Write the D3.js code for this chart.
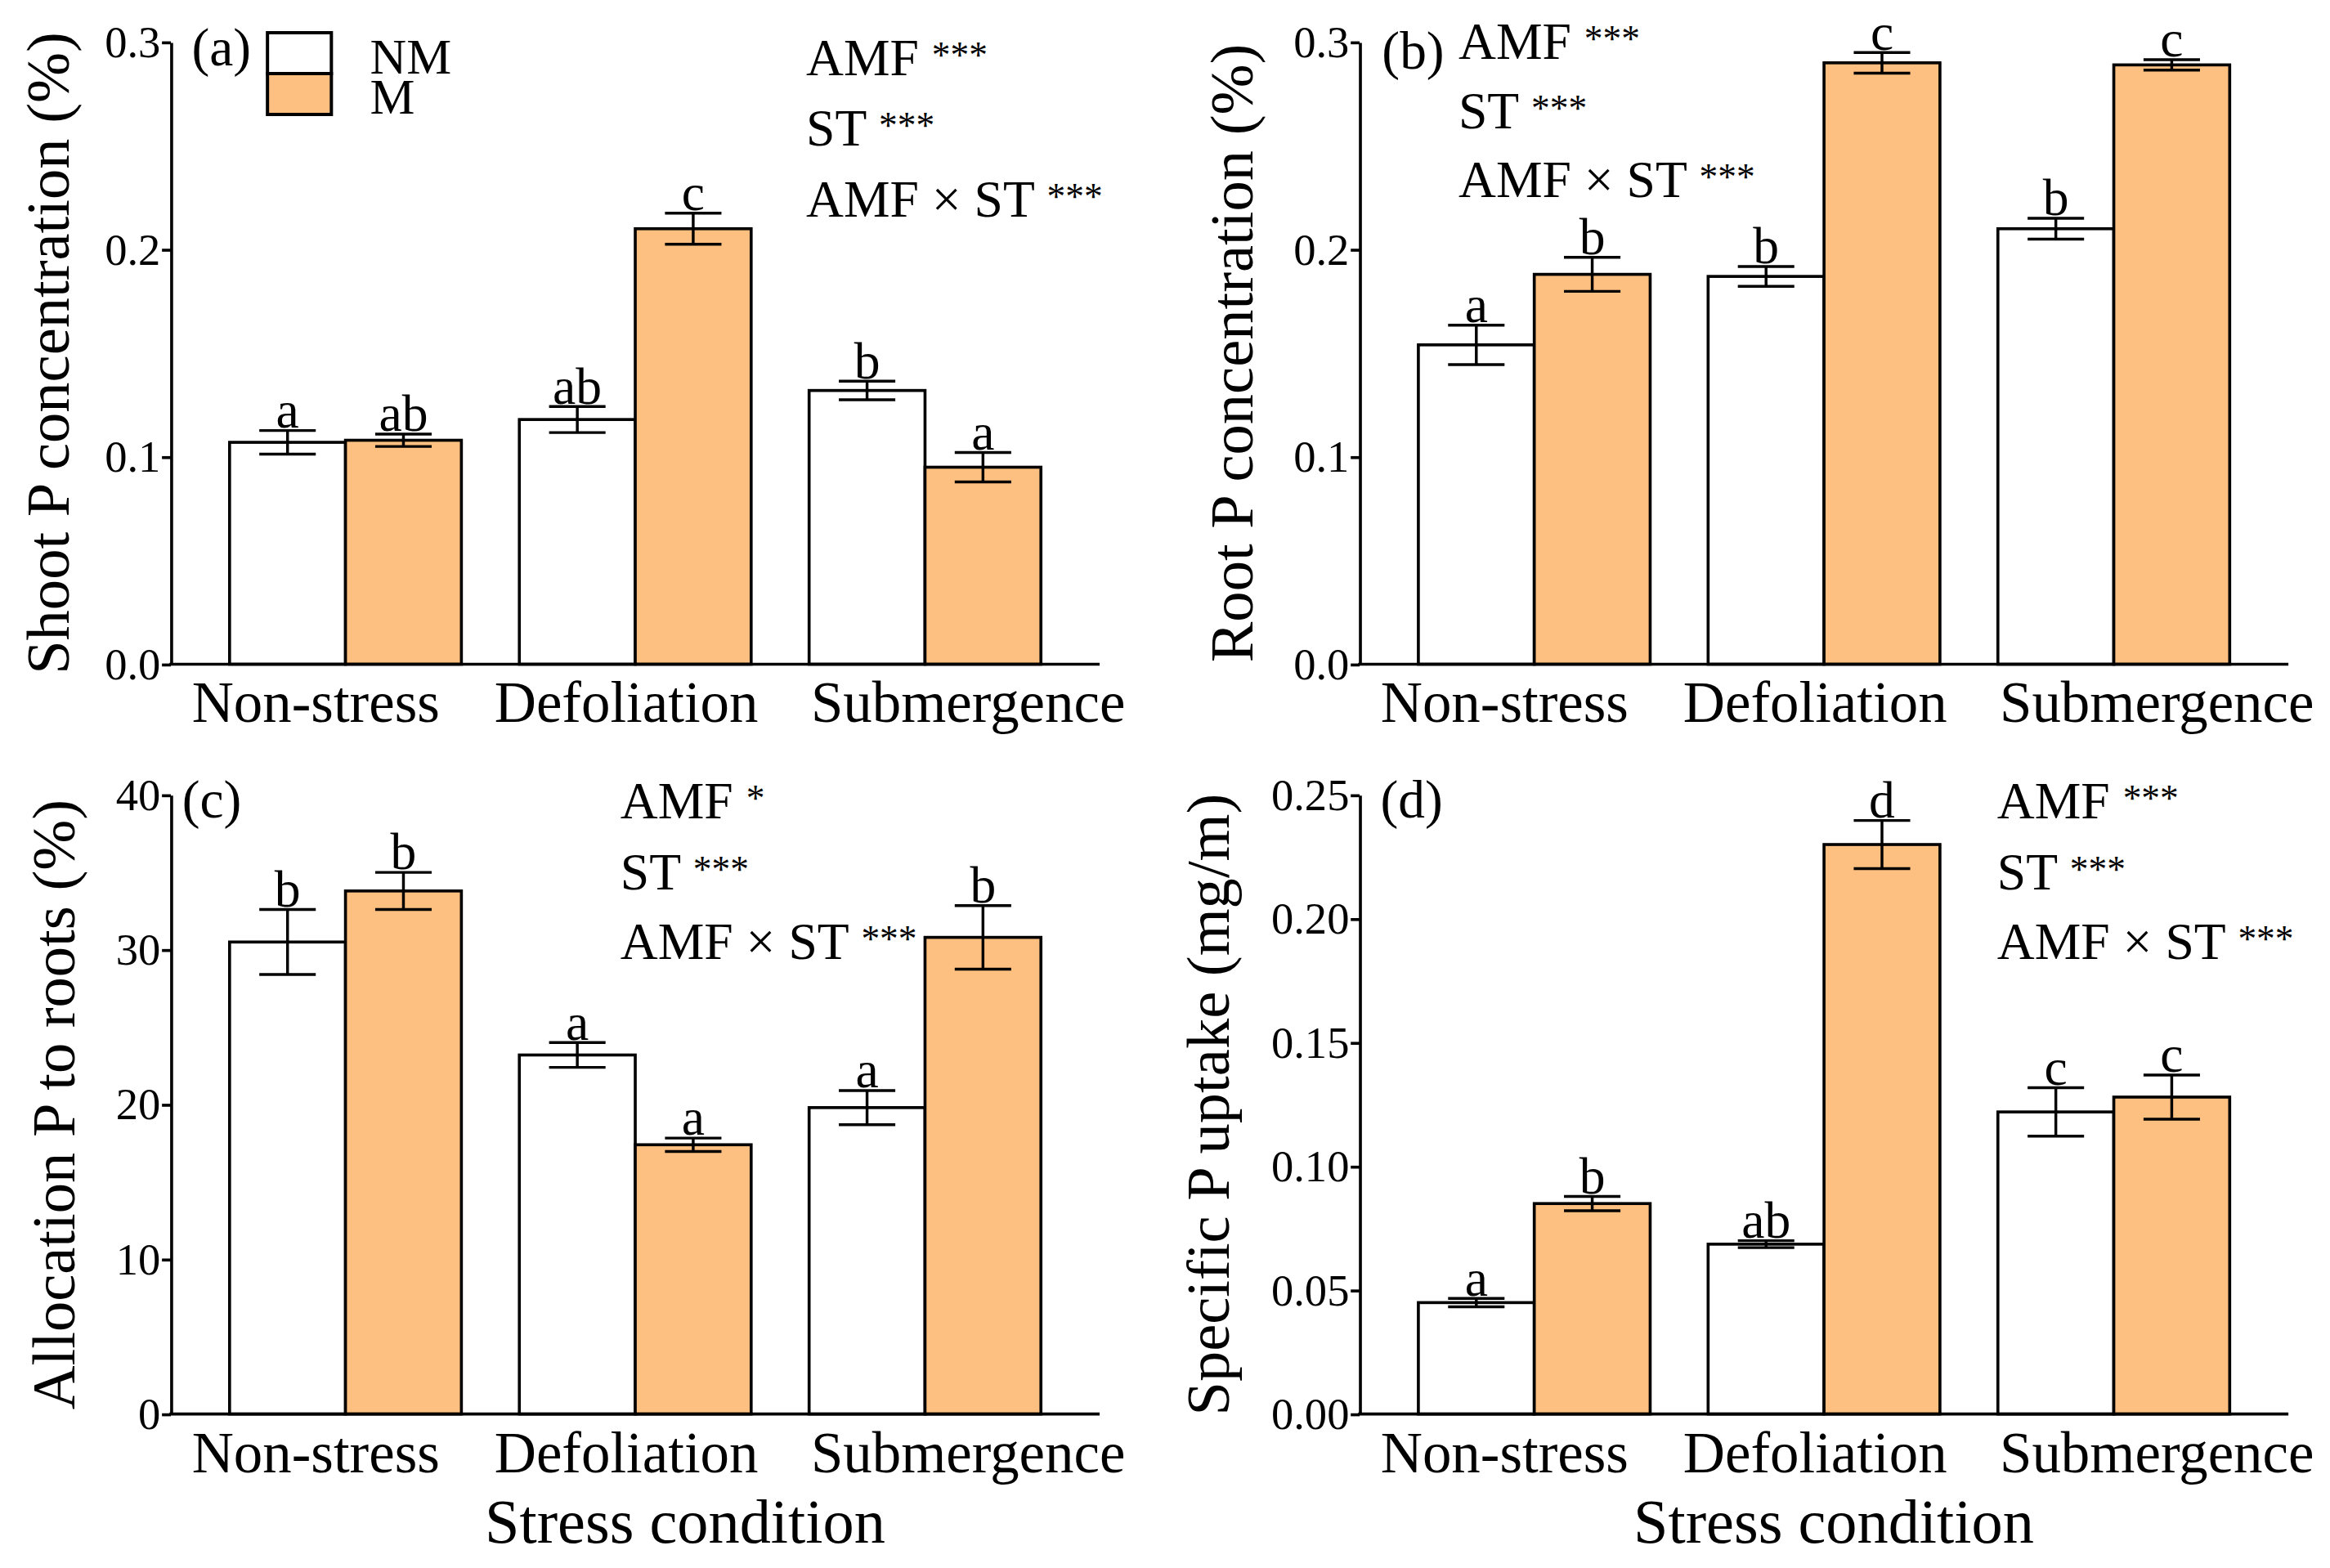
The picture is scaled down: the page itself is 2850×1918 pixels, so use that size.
<!DOCTYPE html>
<html>
<head>
<meta charset="utf-8">
<script src="https://cdn.jsdelivr.net/npm/d3@7"></script>
<style>
    html, body { margin: 0; padding: 0; background: #fff; }
    svg { display: block; }
    text { font-family: "Liberation Serif", "Times New Roman", serif; fill: #000; }
</style>
</head>
<body>
<svg id="fig" width="2850" height="1918" viewBox="0 0 1568 1055.2"></svg>
<script>
    var conditions = ["Non-stress", "Defoliation", "Submergence"];
    var treatments = ["NM", "M"];

    // (a) shoot P concentration (%)
    var shootNM = [0.107, 0.118, 0.132];
    var shootNMse = [0.0057, 0.0063, 0.0045];
    var shootM = [0.108, 0.210, 0.095];
    var shootMse = [0.0030, 0.0075, 0.0071];
    var shootNMlet = ["a", "ab", "b"];
    var shootMlet = ["ab", "c", "a"];
    var shootTicks = [0.0, 0.1, 0.2, 0.3];
    var shootStats = [["AMF", "***"], ["ST", "***"], ["AMF \u00d7 ST", "***"]];

    // (b) root P concentration (%)
    var rootNM = [0.154, 0.187, 0.210];
    var rootNMse = [0.0095, 0.0048, 0.0050];
    var rootM = [0.188, 0.290, 0.289];
    var rootMse = [0.0082, 0.0050, 0.0025];
    var rootNMlet = ["a", "b", "b"];
    var rootMlet = ["b", "c", "c"];
    var rootTicks = [0.0, 0.1, 0.2, 0.3];
    var rootStats = [["AMF", "***"], ["ST", "***"], ["AMF \u00d7 ST", "***"]];

    // (c) allocation of P to roots (%)
    var allocNM = [30.5, 23.2, 19.8];
    var allocNMse = [2.1, 0.8, 1.1];
    var allocM = [33.8, 17.4, 30.8];
    var allocMse = [1.2, 0.43, 2.05];
    var allocNMlet = ["b", "a", "a"];
    var allocMlet = ["b", "a", "b"];
    var allocTicks = [0, 10, 20, 30, 40];
    var allocStats = [["AMF", "*"], ["ST", "***"], ["AMF \u00d7 ST", "***"]];

    // (d) specific P uptake (mg/m)
    var uptakeNM = [0.045, 0.0686, 0.122];
    var uptakeNMse = [0.0017, 0.0014, 0.0098];
    var uptakeM = [0.085, 0.230, 0.128];
    var uptakeMse = [0.0029, 0.0097, 0.0089];
    var uptakeNMlet = ["a", "ab", "c"];
    var uptakeMlet = ["b", "d", "c"];
    var uptakeTicks = [0.00, 0.05, 0.10, 0.15, 0.20, 0.25];
    var uptakeStats = [["AMF", "***"], ["ST", "***"], ["AMF \u00d7 ST", "***"]];

    var fillColor = {NM: "#ffffff", M: "#fec080"};
    var labelShift = [-20, -6, 29];
    var serif = "'Liberation Serif', 'Times New Roman', serif";

    var panels = [
        {tag: "(a)", title: "Shoot P concentration (%)", nm: shootNM, nmSe: shootNMse, m: shootM, mSe: shootMse,
            nmLet: shootNMlet, mLet: shootMlet, ticks: shootTicks, fmt: ".1f", stats: shootStats,
            ax: 115, top: 28.3, bottom: 447, titleX: 46, tagX: 129, tagY: 44,
            statX: 542.5, statY: [50.5, 98, 146], legend: true, xTitle: null},
        {tag: "(b)", title: "Root P concentration (%)", nm: rootNM, nmSe: rootNMse, m: rootM, mSe: rootMse,
            nmLet: rootNMlet, mLet: rootMlet, ticks: rootTicks, fmt: ".1f", stats: rootStats,
            ax: 915, top: 28.3, bottom: 447, titleX: 843, tagX: 930, tagY: 46,
            statX: 981.5, statY: [39.5, 86.5, 132.5], legend: false, xTitle: null},
        {tag: "(c)", title: "Allocation P to roots (%)", nm: allocNM, nmSe: allocNMse, m: allocM, mSe: allocMse,
            nmLet: allocNMlet, mLet: allocMlet, ticks: allocTicks, fmt: "d", stats: allocStats,
            ax: 115, top: 535, bottom: 951.6, titleX: 50, tagX: 122.5, tagY: 550,
            statX: 417.5, statY: [550.5, 598.5, 645.5], legend: false, xTitle: 461},
        {tag: "(d)", title: "Specific P uptake (mg/m)", nm: uptakeNM, nmSe: uptakeNMse, m: uptakeM, mSe: uptakeMse,
            nmLet: uptakeNMlet, mLet: uptakeMlet, ticks: uptakeTicks, fmt: ".2f", stats: uptakeStats,
            ax: 915, top: 535, bottom: 951.6, titleX: 827, tagX: 929, tagY: 550,
            statX: 1344, statY: [550.5, 598.5, 645.5], legend: false, xTitle: 1234}
    ];

    var svg = d3.select("#fig");

    panels.forEach(function (p) {
        drawPanel(svg, p);
    });

    function drawPanel(svg, p) {
        var g = svg.append("g");

        var x = d3.scaleBand()
            .domain(conditions)
            .range([p.ax + 20, p.ax + 605])
            .paddingInner(0.2)
            .paddingOuter(0.1);

        var xSub = d3.scaleBand()
            .domain(treatments)
            .range([0, x.bandwidth()]);

        var y = d3.scaleLinear()
            .domain([p.ticks[0], p.ticks[p.ticks.length - 1]])
            .range([p.bottom, p.top]);

        var rows = [];
        conditions.forEach(function (c, i) {
            rows.push({cond: c, trt: "NM", v: p.nm[i], se: p.nmSe[i], let: p.nmLet[i]});
            rows.push({cond: c, trt: "M", v: p.m[i], se: p.mSe[i], let: p.mLet[i]});
        });

        // bars
        g.selectAll("rect.bar")
            .data(rows)
            .enter().append("rect")
            .attr("class", "bar")
            .attr("x", function (d) { return x(d.cond) + xSub(d.trt); })
            .attr("y", function (d) { return y(d.v); })
            .attr("width", xSub.bandwidth())
            .attr("height", function (d) { return y(0) - y(d.v); })
            .attr("fill", function (d) { return fillColor[d.trt]; })
            .attr("stroke", "#000")
            .attr("stroke-width", 2);

        // error bars
        var eb = g.selectAll("g.err")
            .data(rows)
            .enter().append("g")
            .attr("class", "err")
            .attr("stroke", "#000")
            .attr("stroke-width", 1.9);

        function cx(d) { return x(d.cond) + xSub(d.trt) + xSub.bandwidth() / 2; }

        eb.append("line")
            .attr("x1", cx).attr("x2", cx)
            .attr("y1", function (d) { return y(d.v + d.se); })
            .attr("y2", function (d) { return y(d.v - d.se); });
        eb.append("line")
            .attr("x1", function (d) { return cx(d) - 19; })
            .attr("x2", function (d) { return cx(d) + 19; })
            .attr("y1", function (d) { return y(d.v + d.se); })
            .attr("y2", function (d) { return y(d.v + d.se); });
        eb.append("line")
            .attr("x1", function (d) { return cx(d) - 19; })
            .attr("x2", function (d) { return cx(d) + 19; })
            .attr("y1", function (d) { return y(d.v - d.se); })
            .attr("y2", function (d) { return y(d.v - d.se); });

        // significance letters
        g.selectAll("text.sig")
            .data(rows)
            .enter().append("text")
            .attr("class", "sig")
            .attr("x", cx)
            .attr("y", function (d) { return y(d.v + d.se) - 2; })
            .attr("text-anchor", "middle")
            .style("font-size", "35px")
            .text(function (d) { return d.let; });

        // y axis
        var yAxis = g.append("g")
            .attr("transform", "translate(" + p.ax + ",0)")
            .attr("font-family", serif)
            .call(d3.axisLeft(y)
                .tickValues(p.ticks)
                .tickFormat(d3.format(p.fmt))
                .tickSize(6)
                .tickSizeOuter(0)
                .tickPadding(1));
        yAxis.select(".domain").attr("stroke", "#000").attr("stroke-width", 2);
        yAxis.selectAll(".tick line").attr("stroke", "#000").attr("stroke-width", 2);
        yAxis.selectAll(".tick text")
            .attr("fill", "#000")
            .attr("font-family", serif)
            .style("font-family", serif)
            .style("font-size", "30px");

        // x axis baseline
        g.append("line")
            .attr("x1", p.ax - 1)
            .attr("x2", p.ax + 625)
            .attr("y1", y(0))
            .attr("y2", y(0))
            .attr("stroke", "#000")
            .attr("stroke-width", 2);

        // category labels
        g.selectAll("text.cat")
            .data(conditions)
            .enter().append("text")
            .attr("class", "cat")
            .attr("x", function (d, i) { return x(d) + x.bandwidth() / 2 + labelShift[i]; })
            .attr("y", p.bottom + 39)
            .attr("text-anchor", "middle")
            .style("font-size", "39px")
            .text(function (d) { return d; });

        // y title
        g.append("text")
            .attr("transform", "translate(" + p.titleX + "," + ((p.top + p.bottom) / 2) + ") rotate(-90)")
            .attr("text-anchor", "middle")
            .style("font-size", "41px")
            .text(p.title);

        // panel tag
        g.append("text")
            .attr("x", p.tagX)
            .attr("y", p.tagY)
            .style("font-size", "36px")
            .text(p.tag);

        // ANOVA lines, stars set smaller and raised
        var st = g.selectAll("text.stat")
            .data(p.stats)
            .enter().append("text")
            .attr("class", "stat")
            .attr("x", p.statX)
            .attr("y", function (d, i) { return p.statY[i]; })
            .style("font-size", "35px");
        st.append("tspan")
            .text(function (d) { return d[0] + " "; });
        st.append("tspan")
            .attr("dy", -5)
            .style("font-size", "25px")
            .text(function (d) { return d[1]; });

        if (p.xTitle !== null) {
            g.append("text")
                .attr("x", p.xTitle)
                .attr("y", 1038)
                .attr("text-anchor", "middle")
                .style("font-size", "42px")
                .text("Stress condition");
        }

        if (p.legend) {
            var lg = g.append("g");
            lg.selectAll("rect")
                .data(treatments)
                .enter().append("rect")
                .attr("x", 180)
                .attr("y", function (d, i) { return 22 + i * 27.5; })
                .attr("width", 43)
                .attr("height", 27.5)
                .attr("fill", function (d) { return fillColor[d]; })
                .attr("stroke", "#000")
                .attr("stroke-width", 2.2);
            // the two legend names sit tight together, so keep them in one text block
            lg.append("text")
                .style("font-size", "34px")
                .selectAll("tspan")
                .data(treatments)
                .enter().append("tspan")
                .attr("x", 249)
                .attr("y", function (d, i) { return 49.5 + i * 27; })
                .text(function (d) { return d; });
        }
    }
</script>
</body>
</html>
